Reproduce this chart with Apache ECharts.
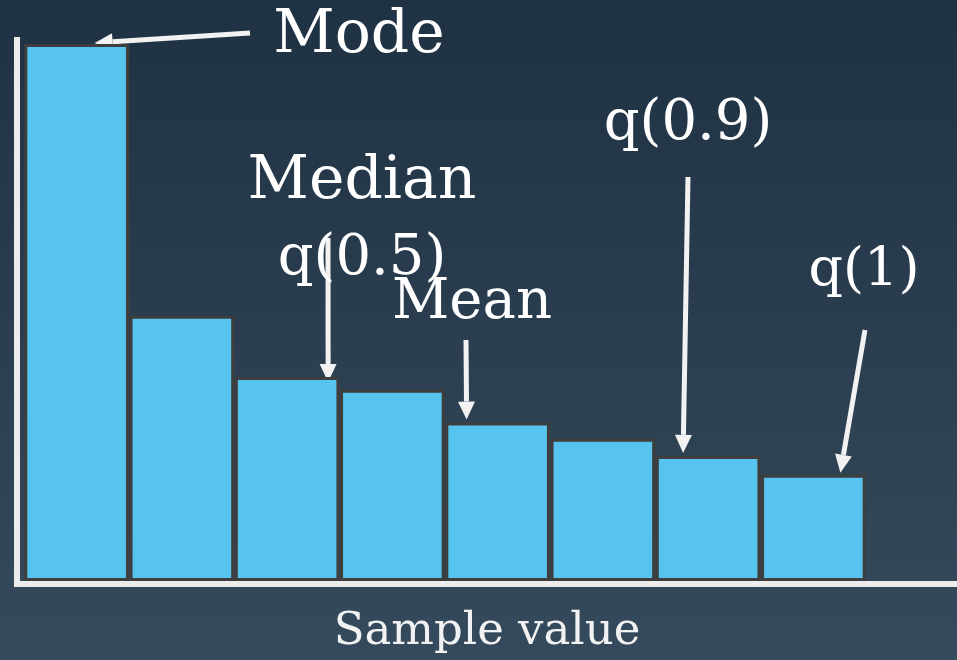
<!DOCTYPE html>
<html>
<head>
<meta charset="utf-8">
<script src="https://cdn.jsdelivr.net/npm/echarts@6/dist/echarts.min.js"></script>
<style>
  html, body { margin: 0; padding: 0; }
  #chart { width: 957px; height: 660px; }
</style>
</head>
<body>
<div id="chart"></div>
<script>
const categories = ['b1', 'b2', 'b3', 'b4', 'b5', 'b6', 'b7', 'b8']
const counts = [100, 49.4, 38, 35.6, 29.5, 26.5, 23.3, 19.8]
const labels = ['Mode', 'Median', 'q(0.5)', 'Mean', 'q(0.9)', 'q(1)']

const font = "'Roboto Slab', 'DejaVu Serif', serif"
const white = '#f2f2f2'

const chart = echarts.init(document.getElementById('chart'))

let option = {
  backgroundColor: {
    type: 'linear', x: 0, y: 0, x2: 0, y2: 1,
    colorStops: [
      { offset: 0, color: '#1f3243' },
      { offset: 1, color: '#354a5c' }
    ]
  },
  animation: false,
  grid: [
    { left: 24, right: 91, top: 44, bottom: 79 },
    { left: 17, right: 0, top: 40, bottom: 74 }
  ],
  xAxis: [
    {
      gridIndex: 0,
      type: 'category',
      data: categories,
      show: false
    },
    {
      gridIndex: 1,
      type: 'value',
      min: 0,
      max: 1,
      axisLine: { show: true, lineStyle: { color: '#ececec', width: 6 } },
      axisTick: { show: false },
      axisLabel: { show: false },
      splitLine: { show: false },
      name: 'Sample value',
      nameLocation: 'middle',
      nameGap: 26,
      nameTextStyle: { color: white, fontFamily: font, fontSize: 45 }
    }
  ],
  yAxis: [
    {
      gridIndex: 0,
      type: 'value',
      min: 0,
      max: 100,
      show: false
    },
    {
      gridIndex: 1,
      type: 'value',
      min: 0,
      max: 1,
      axisLine: { show: true, lineStyle: { color: '#ececec', width: 6, cap: 'square' } },
      axisTick: { show: false },
      axisLabel: { show: false },
      splitLine: { show: false }
    }
  ],
  series: [
    {
      type: 'bar',
      xAxisIndex: 0,
      yAxisIndex: 0,
      data: counts,
      barCategoryGap: '0.6%',
      itemStyle: {
        color: '#56c4ee',
        borderColor: '#3e3e3e',
        borderWidth: 3
      }
    }
  ]
}

chart.setOption(option)

// annotation layout: which bar the arrow points at, tip offset, tail position
const notes = [
  { text: 'Mode', at: [359, 36], size: 60, bar: 0, dx: 18, dy: -1, tail: [250, 33] },
  { text: 'Median', at: [362, 182], size: 60 },
  { text: 'q(0.5)', at: [362, 259], size: 56, bar: 2, dx: 41, dy: 5, tail: [328, 238] },
  { text: 'Mean', at: [472, 303], size: 56, bar: 4, dx: -31, dy: -3, tail: [466, 340] },
  { text: 'q(0.9)', at: [688, 124], size: 56, bar: 6, dx: -25, dy: -3, tail: [688, 177] },
  { text: 'q(1)', at: [864, 272], size: 54, bar: 7, dx: 27, dy: -2, tail: [865, 330] }
]

function arrow(tail, tip) {
  const ang = Math.atan2(tip[1] - tail[1], tip[0] - tail[0])
  const len = 18, half = 8.5
  const bx = tip[0] - Math.cos(ang) * len
  const by = tip[1] - Math.sin(ang) * len
  const px = -Math.sin(ang) * half, py = Math.cos(ang) * half
  return [
    {
      type: 'line',
      shape: { x1: tail[0], y1: tail[1], x2: bx, y2: by },
      style: { stroke: white, lineWidth: 5 }
    },
    {
      type: 'polygon',
      shape: { points: [tip, [bx + px, by + py], [bx - px, by - py]] },
      style: { fill: white }
    }
  ]
}

let elements = []
notes.forEach(function(n) {
  if (n.bar !== undefined) {
    const p = chart.convertToPixel({ seriesIndex: 0 }, [n.bar, counts[n.bar]])
    elements = elements.concat(arrow(n.tail, [p[0] + n.dx, p[1] + n.dy]))
  }
})
notes.forEach(function(n, i) {
  elements.push({
    type: 'text',
    x: n.at[0],
    y: n.at[1],
    style: {
      text: labels[i],
      fill: '#ffffff',
      font: n.size + 'px ' + font,
      align: 'center',
      verticalAlign: 'middle'
    }
  })
})

chart.setOption({ graphic: { elements: elements } })
</script>
</body>
</html>
